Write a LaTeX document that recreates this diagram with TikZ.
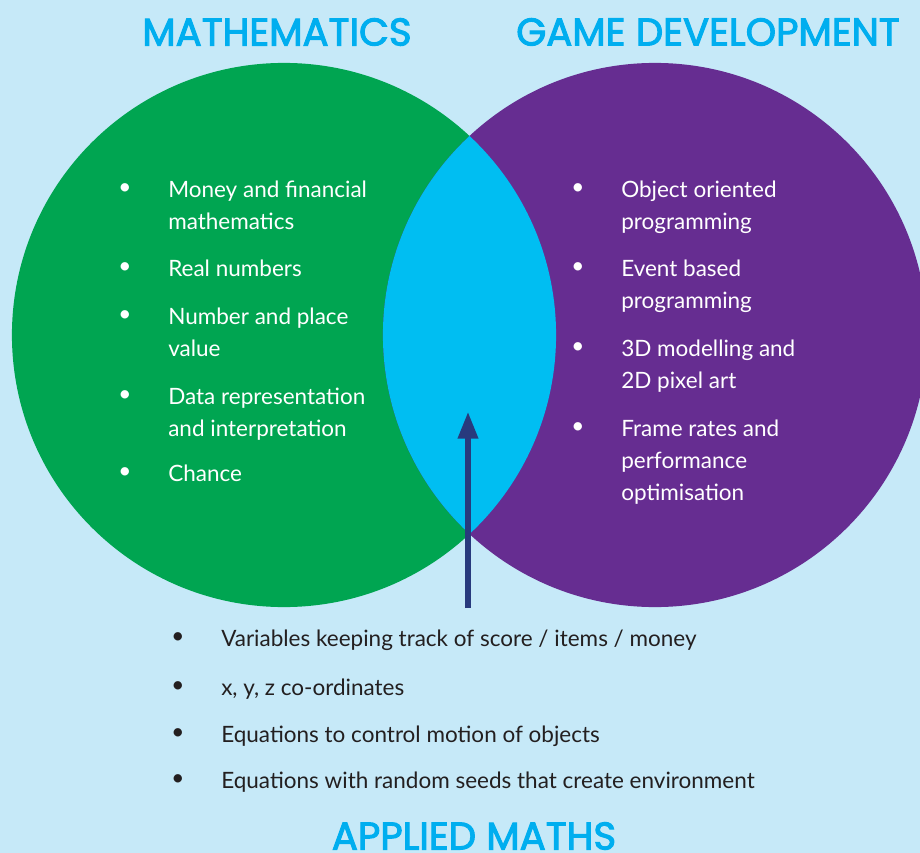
\documentclass[tikz,border=0pt]{standalone}
\usepackage{fontspec}
\setmainfont{Lato}
\newfontfamily\titlefont{Poppins}[FakeBold=2.6]
\usetikzlibrary{arrows.meta}

\definecolor{bgblue}{HTML}{C6E9F8}
\definecolor{mathgreen}{HTML}{00A551}
\definecolor{gamepurple}{HTML}{662D91}
\definecolor{lenscyan}{HTML}{00BEF2}
\definecolor{titlecyan}{HTML}{00AEEF}
\definecolor{arrowblue}{HTML}{283A7D}
\definecolor{darktext}{HTML}{231F20}

\tikzset{
  heading/.style={text=titlecyan, font=\titlefont\fontsize{27.5}{30}\selectfont, inner sep=0pt},
  entry/.style={align=left, anchor=north west, inner sep=0pt, font=\fontsize{16}{22.8}\selectfont},
  dot/.style={anchor=center, inner sep=0pt, font=\fontsize{16}{22.8}\selectfont}
}

\begin{document}
\begin{tikzpicture}[x=0.025cm, y=-0.025cm]
	%Background
		\fill [bgblue] (0, 0) rectangle (920, 853);
		\useasboundingbox (0, 0) rectangle (920, 853);
	%Circles
		\fill [mathgreen] (284, 335) circle [radius=6.8cm];
		\fill [gamepurple] (655, 335) circle [radius=6.8cm];
		%Overlap
		\begin{scope}
			\clip (284, 335) circle [radius=6.8cm];
			\fill [lenscyan] (655, 335) circle [radius=6.8cm];
		\end{scope}
	%Headings
		\node [heading] (maths) at (277, 32) {MATHEMATICS};
		\node [heading] (game) at (708, 32) {GAME DEVELOPMENT};
		\node [heading] (applied) at (474, 836) {APPLIED MATHS};
	%Mathematics list
		\foreach \y/\t [count=\i] in {189/{Money and financial\\mathematics}, 268/{Real numbers}, 316/{Number and place\\value}, 396/{Data representation\\and interpretation}, 473/{Chance}} {
			\node [dot, white] (m\i-dot) at (125, \y) {\textbullet};
			\node [entry, white] (m\i) at (168, \y-14) {\strut\t};
		}
	%Game development list
		\foreach \y/\t [count=\i] in {189/{Object oriented\\programming}, 268/{Event based\\programming}, 348/{3D modelling and\\2D pixel art}, 428/{Frame rates and\\performance\\optimisation}} {
			\node [dot, white] (g\i-dot) at (578, \y) {\textbullet};
			\node [entry, white] (g\i) at (621, \y-14) {\strut\t};
		}
	%Applied maths list
		\foreach \y/\t [count=\i] in {638/{Variables keeping track of score / items / money}, 687/{x, y, z co-ordinates}, 734/{Equations to control motion of objects}, 780/{Equations with random seeds that create environment}} {
			\node [dot, darktext] (a\i-dot) at (178, \y) {\textbullet};
			\node [entry, darktext] (a\i) at (221, \y-14) {\strut\t};
		}
	%Arrow into the overlap
		\coordinate (tail) at (468, 608);
		\coordinate (tip) at (468, 412);
		\draw [arrowblue, line width=3.6pt, -{Triangle[width=14pt, length=19pt]}] (tail) -- (tip);
\end{tikzpicture}
\end{document}
